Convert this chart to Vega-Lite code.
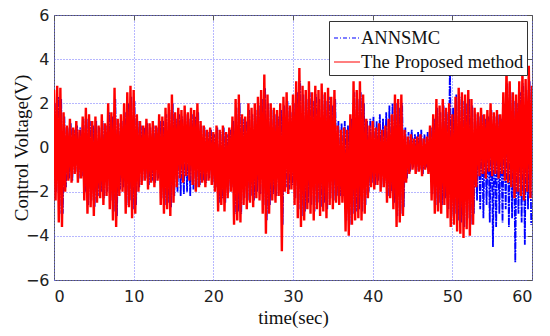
{
"$schema":"https://vega.github.io/schema/vega-lite/v6.json",
"width":478,"height":265,
"autosize":"none",
"padding":{"left":54,"top":15,"right":18,"bottom":56},
"background":"white",
"config":{"view":{"stroke":"#555","strokeWidth":1},
"axis":{"labelFont":"DejaVu Sans","labelFontSize":16,"labelColor":"#222","titleFont":"Liberation Serif","titleFontSize":19,"titleFontWeight":"normal","titleColor":"#111","domainColor":"#555","tickColor":"#555","gridColor":"#6e6eff","gridDash":[1,2],"gridOpacity":1,"gridWidth":1}},
"datasets":{
"blue":[
{"t":0.1,"v":2.0},{"t":0.3,"v":-2.0},{"t":0.5,"v":2.3},{"t":0.7,"v":-3.0},{"t":0.9,"v":2.2},{"t":1.1,"v":-3.0},{"t":1.3,"v":1.4},{"t":1.5,"v":-1.8},{"t":1.7,"v":0.9},{"t":1.9,"v":-1.4},
{"t":2.1,"v":1.1},{"t":2.3,"v":-1.5},{"t":2.5,"v":0.8},{"t":2.7,"v":-1.1},{"t":2.9,"v":1.0},{"t":3.1,"v":-1.4},{"t":3.3,"v":0.9},{"t":3.5,"v":-1.3},{"t":3.7,"v":1.3},{"t":3.9,"v":-2.0},
{"t":4.1,"v":1.3},{"t":4.3,"v":-2.6},{"t":4.5,"v":1.2},{"t":4.7,"v":-2.4},{"t":4.9,"v":1.0},{"t":5.1,"v":-2.7},{"t":5.3,"v":1.2},{"t":5.5,"v":-2.2},{"t":5.7,"v":0.9},{"t":5.9,"v":-2.0},
{"t":6.1,"v":1.2},{"t":6.3,"v":-2.3},{"t":6.5,"v":1.0},{"t":6.7,"v":-2.0},{"t":6.9,"v":1.6},{"t":7.1,"v":-2.4},{"t":7.3,"v":1.4},{"t":7.5,"v":-2.9},{"t":7.7,"v":2.2},{"t":7.9,"v":-3.1},
{"t":8.1,"v":1.1},{"t":8.3,"v":-1.9},{"t":8.5,"v":1.2},{"t":8.7,"v":-1.8},{"t":8.9,"v":1.6},{"t":9.1,"v":-2.6},{"t":9.3,"v":2.0},{"t":9.5,"v":-2.4},{"t":9.7,"v":2.3},{"t":9.9,"v":-2.8},
{"t":10.1,"v":2.1},{"t":10.3,"v":-2.6},{"t":10.5,"v":1.2},{"t":10.7,"v":-1.8},{"t":10.9,"v":1.0},{"t":11.1,"v":-1.5},{"t":11.3,"v":0.9},{"t":11.5,"v":-1.4},{"t":11.7,"v":1.1},{"t":11.9,"v":-1.7},
{"t":12.1,"v":0.9},{"t":12.3,"v":-1.5},{"t":12.5,"v":1.0},{"t":12.7,"v":-1.6},{"t":12.9,"v":0.9},{"t":13.1,"v":-1.4},{"t":13.3,"v":1.2},{"t":13.5,"v":-2.3},{"t":13.7,"v":1.2},{"t":13.9,"v":-2.6},
{"t":14.1,"v":1.5},{"t":14.3,"v":-2.5},{"t":14.5,"v":1.7},{"t":14.7,"v":-2.7},{"t":14.9,"v":2.0},{"t":15.1,"v":-2.2},{"t":15.3,"v":1.3},{"t":15.5,"v":-2.0},{"t":15.7,"v":1.5},{"t":15.9,"v":-2.2},
{"t":16.1,"v":1.4},{"t":16.3,"v":-2.1},{"t":16.5,"v":1.5},{"t":16.7,"v":-2.0},{"t":16.9,"v":1.3},{"t":17.1,"v":-2.2},{"t":17.3,"v":1.5},{"t":17.5,"v":-1.9},{"t":17.7,"v":1.4},{"t":17.9,"v":-1.8},
{"t":18.1,"v":1.6},{"t":18.3,"v":-1.7},{"t":18.5,"v":1.0},{"t":18.7,"v":-1.5},{"t":18.9,"v":0.9},{"t":19.1,"v":-1.6},{"t":19.3,"v":0.7},{"t":19.5,"v":-1.4},{"t":19.7,"v":0.8},{"t":19.9,"v":-1.6},
{"t":20.1,"v":0.6},{"t":20.3,"v":-1.8},{"t":20.5,"v":0.9},{"t":20.7,"v":-2.5},{"t":20.9,"v":0.7},{"t":21.1,"v":-2.3},{"t":21.3,"v":0.9},{"t":21.5,"v":-2.5},{"t":21.7,"v":0.6},{"t":21.9,"v":-2.0},
{"t":22.1,"v":0.8},{"t":22.3,"v":-1.8},{"t":22.5,"v":1.2},{"t":22.7,"v":-3.0},{"t":22.9,"v":1.8},{"t":23.1,"v":-2.9},{"t":23.3,"v":2.0},{"t":23.5,"v":-3.0},{"t":23.7,"v":1.3},{"t":23.9,"v":-2.3},
{"t":24.1,"v":1.2},{"t":24.3,"v":-2.4},{"t":24.5,"v":1.7},{"t":24.7,"v":-2.2},{"t":24.9,"v":1.5},{"t":25.1,"v":-2.4},{"t":25.3,"v":1.7},{"t":25.5,"v":-2.0},{"t":25.7,"v":1.9},{"t":25.9,"v":-2.1},
{"t":26.1,"v":2.2},{"t":26.3,"v":-2.6},{"t":26.5,"v":2.7},{"t":26.7,"v":-3.3},{"t":26.9,"v":2.0},{"t":27.1,"v":-2.6},{"t":27.3,"v":1.7},{"t":27.5,"v":-2.1},{"t":27.7,"v":1.5},{"t":27.9,"v":-2.2},
{"t":28.1,"v":1.4},{"t":28.3,"v":-1.9},{"t":28.5,"v":1.7},{"t":28.7,"v":-3.5},{"t":28.9,"v":1.9},{"t":29.1,"v":-1.8},{"t":29.3,"v":2.1},{"t":29.5,"v":-1.9},{"t":29.7,"v":1.6},{"t":29.9,"v":-1.7},
{"t":30.1,"v":2.0},{"t":30.3,"v":-2.3},{"t":30.5,"v":2.5},{"t":30.7,"v":-2.8},{"t":30.9,"v":3.0},{"t":31.1,"v":-3.1},{"t":31.3,"v":2.4},{"t":31.5,"v":-2.9},{"t":31.7,"v":2.2},{"t":31.9,"v":-2.5},
{"t":32.1,"v":2.5},{"t":32.3,"v":-2.6},{"t":32.5,"v":2.1},{"t":32.7,"v":-2.9},{"t":32.9,"v":2.4},{"t":33.1,"v":-2.5},{"t":33.3,"v":2.2},{"t":33.5,"v":-2.7},{"t":33.7,"v":2.4},{"t":33.9,"v":-2.5},
{"t":34.1,"v":2.1},{"t":34.3,"v":-2.8},{"t":34.5,"v":2.3},{"t":34.7,"v":-2.3},{"t":34.9,"v":1.9},{"t":35.1,"v":-2.4},{"t":35.3,"v":2.2},{"t":35.5,"v":-2.2},{"t":35.7,"v":1.2},{"t":35.9,"v":-2.2},
{"t":36.1,"v":1.1},{"t":36.3,"v":-2.2},{"t":36.5,"v":1.2},{"t":36.7,"v":-3.3},{"t":36.9,"v":1.0},{"t":37.1,"v":-3.5},{"t":37.3,"v":1.3},{"t":37.5,"v":-3.0},{"t":37.7,"v":2.5},{"t":37.9,"v":-2.9},
{"t":38.1,"v":2.2},{"t":38.3,"v":-2.8},{"t":38.5,"v":2.5},{"t":38.7,"v":-2.9},{"t":38.9,"v":2.0},{"t":39.1,"v":-2.6},{"t":39.3,"v":1.2},{"t":39.5,"v":-2.0},{"t":39.7,"v":1.3},{"t":39.9,"v":-1.6},
{"t":40.1,"v":1.4},{"t":40.3,"v":-1.7},{"t":40.5,"v":1.2},{"t":40.7,"v":-1.5},{"t":40.9,"v":1.5},{"t":41.1,"v":-1.8},{"t":41.3,"v":1.3},{"t":41.5,"v":-1.6},{"t":41.7,"v":1.6},{"t":41.9,"v":-2.2},
{"t":42.1,"v":1.9},{"t":42.3,"v":-2.0},{"t":42.5,"v":2.0},{"t":42.7,"v":-2.5},{"t":42.9,"v":2.0},{"t":43.1,"v":-3.1},{"t":43.3,"v":1.8},{"t":43.5,"v":-3.0},{"t":43.7,"v":2.0},{"t":43.9,"v":-2.7},
{"t":44.1,"v":0.9},{"t":44.3,"v":-1.4},{"t":44.5,"v":0.7},{"t":44.7,"v":-1.1},{"t":44.9,"v":0.8},{"t":45.1,"v":-0.9},{"t":45.3,"v":0.6},{"t":45.5,"v":-1.1},{"t":45.7,"v":0.7},{"t":45.9,"v":-1.0},
{"t":46.1,"v":0.8},{"t":46.3,"v":-1.2},{"t":46.5,"v":0.6},{"t":46.7,"v":-0.9},{"t":46.9,"v":0.7},{"t":47.1,"v":-1.1},{"t":47.3,"v":0.9},{"t":47.5,"v":-2.1},{"t":47.7,"v":1.3},{"t":47.9,"v":-2.6},
{"t":48.1,"v":1.8},{"t":48.3,"v":-2.5},{"t":48.5,"v":1.6},{"t":48.7,"v":-2.6},{"t":48.9,"v":1.9},{"t":49.1,"v":-2.3},{"t":49.3,"v":1.6},{"t":49.5,"v":-2.8},{"t":49.7,"v":3.8},{"t":49.9,"v":-3.1},
{"t":50.1,"v":1.8},{"t":50.3,"v":-3.0},{"t":50.5,"v":2.4},{"t":50.7,"v":-3.3},{"t":50.9,"v":2.3},{"t":51.1,"v":-3.4},{"t":51.3,"v":2.1},{"t":51.5,"v":-3.6},{"t":51.7,"v":2.0},{"t":51.9,"v":-3.2},
{"t":52.1,"v":2.2},{"t":52.3,"v":-3.5},{"t":52.5,"v":1.9},{"t":52.7,"v":-3.0},{"t":52.9,"v":1.5},{"t":53.1,"v":-2.4},{"t":53.3,"v":1.4},{"t":53.5,"v":-2.8},{"t":53.7,"v":1.5},{"t":53.9,"v":-3.2},
{"t":54.1,"v":1.3},{"t":54.3,"v":-2.6},{"t":54.5,"v":1.4},{"t":54.7,"v":-3.4},{"t":54.9,"v":1.7},{"t":55.1,"v":-4.5},{"t":55.3,"v":1.4},{"t":55.5,"v":-3.6},{"t":55.7,"v":1.5},{"t":55.9,"v":-3.0},
{"t":56.1,"v":1.3},{"t":56.3,"v":-3.4},{"t":56.5,"v":2.0},{"t":56.7,"v":-2.8},{"t":56.9,"v":2.9},{"t":57.1,"v":-3.6},{"t":57.3,"v":2.5},{"t":57.5,"v":-3.2},{"t":57.7,"v":2.1},{"t":57.9,"v":-5.2},
{"t":58.1,"v":2.0},{"t":58.3,"v":-3.0},{"t":58.5,"v":2.5},{"t":58.7,"v":-3.4},{"t":58.9,"v":2.9},{"t":59.1,"v":-4.4},{"t":59.3,"v":2.6},{"t":59.5,"v":-2.8},{"t":59.7,"v":3.0},{"t":59.9,"v":-3.5}
],
"red":[
{"t":0.0,"v":2.6},{"t":0.2,"v":-2.4},{"t":0.4,"v":2.8},{"t":0.6,"v":-3.4},{"t":0.8,"v":2.7},{"t":1.0,"v":-3.6},{"t":1.2,"v":1.6},{"t":1.4,"v":-2.0},{"t":1.6,"v":1.0},{"t":1.8,"v":-1.5},
{"t":2.0,"v":1.3},{"t":2.2,"v":-1.6},{"t":2.4,"v":0.9},{"t":2.6,"v":-1.2},{"t":2.8,"v":1.2},{"t":3.0,"v":-1.6},{"t":3.2,"v":0.8},{"t":3.4,"v":-1.4},{"t":3.6,"v":1.4},{"t":3.8,"v":-2.4},
{"t":4.0,"v":1.8},{"t":4.2,"v":-3.0},{"t":4.4,"v":1.5},{"t":4.6,"v":-2.7},{"t":4.8,"v":1.2},{"t":5.0,"v":-3.1},{"t":5.2,"v":1.4},{"t":5.4,"v":-2.5},{"t":5.6,"v":1.0},{"t":5.8,"v":-2.3},
{"t":6.0,"v":1.5},{"t":6.2,"v":-2.6},{"t":6.4,"v":1.1},{"t":6.6,"v":-2.2},{"t":6.8,"v":2.0},{"t":7.0,"v":-2.8},{"t":7.2,"v":1.6},{"t":7.4,"v":-3.3},{"t":7.6,"v":2.7},{"t":7.8,"v":-3.6},
{"t":8.0,"v":1.3},{"t":8.2,"v":-2.2},{"t":8.4,"v":1.5},{"t":8.6,"v":-2.0},{"t":8.8,"v":2.0},{"t":9.0,"v":-3.0},{"t":9.2,"v":2.5},{"t":9.4,"v":-2.7},{"t":9.6,"v":2.8},{"t":9.8,"v":-3.2},
{"t":10.0,"v":2.6},{"t":10.2,"v":-3.0},{"t":10.4,"v":1.5},{"t":10.6,"v":-2.0},{"t":10.8,"v":1.2},{"t":11.0,"v":-1.7},{"t":11.2,"v":1.0},{"t":11.4,"v":-1.5},{"t":11.6,"v":1.3},{"t":11.8,"v":-1.9},
{"t":12.0,"v":1.1},{"t":12.2,"v":-1.6},{"t":12.4,"v":1.2},{"t":12.6,"v":-1.8},{"t":12.8,"v":1.0},{"t":13.0,"v":-1.5},{"t":13.2,"v":1.5},{"t":13.4,"v":-2.6},{"t":13.6,"v":1.4},{"t":13.8,"v":-3.0},
{"t":14.0,"v":1.8},{"t":14.2,"v":-2.8},{"t":14.4,"v":2.0},{"t":14.6,"v":-3.1},{"t":14.8,"v":2.4},{"t":15.0,"v":-2.5},{"t":15.2,"v":1.6},{"t":15.4,"v":-1.8},{"t":15.6,"v":1.8},{"t":15.8,"v":-1.4},
{"t":16.0,"v":1.7},{"t":16.2,"v":-1.6},{"t":16.4,"v":1.9},{"t":16.6,"v":-1.3},{"t":16.8,"v":1.6},{"t":17.0,"v":-1.5},{"t":17.2,"v":1.8},{"t":17.4,"v":-1.7},{"t":17.6,"v":1.7},{"t":17.8,"v":-2.0},
{"t":18.0,"v":2.0},{"t":18.2,"v":-1.8},{"t":18.4,"v":1.2},{"t":18.6,"v":-1.6},{"t":18.8,"v":1.0},{"t":19.0,"v":-1.8},{"t":19.2,"v":0.8},{"t":19.4,"v":-1.5},{"t":19.6,"v":0.9},{"t":19.8,"v":-1.7},
{"t":20.0,"v":0.7},{"t":20.2,"v":-2.0},{"t":20.4,"v":1.0},{"t":20.6,"v":-2.9},{"t":20.8,"v":0.8},{"t":21.0,"v":-2.6},{"t":21.2,"v":1.0},{"t":21.4,"v":-2.9},{"t":21.6,"v":0.7},{"t":21.8,"v":-2.3},
{"t":22.0,"v":0.9},{"t":22.2,"v":-2.0},{"t":22.4,"v":1.4},{"t":22.6,"v":-3.5},{"t":22.8,"v":2.2},{"t":23.0,"v":-3.3},{"t":23.2,"v":2.4},{"t":23.4,"v":-3.4},{"t":23.6,"v":1.5},{"t":23.8,"v":-2.6},
{"t":24.0,"v":1.4},{"t":24.2,"v":-2.8},{"t":24.4,"v":2.0},{"t":24.6,"v":-2.5},{"t":24.8,"v":1.8},{"t":25.0,"v":-2.7},{"t":25.2,"v":2.0},{"t":25.4,"v":-2.3},{"t":25.6,"v":2.3},{"t":25.8,"v":-2.4},
{"t":26.0,"v":2.6},{"t":26.2,"v":-3.0},{"t":26.4,"v":3.3},{"t":26.6,"v":-3.9},{"t":26.8,"v":2.4},{"t":27.0,"v":-3.0},{"t":27.2,"v":2.0},{"t":27.4,"v":-2.4},{"t":27.6,"v":1.8},{"t":27.8,"v":-2.5},
{"t":28.0,"v":1.7},{"t":28.2,"v":-2.2},{"t":28.4,"v":2.0},{"t":28.6,"v":-4.7},{"t":28.8,"v":2.3},{"t":29.0,"v":-2.0},{"t":29.2,"v":2.5},{"t":29.4,"v":-2.1},{"t":29.6,"v":1.9},{"t":29.8,"v":-1.9},
{"t":30.0,"v":2.4},{"t":30.2,"v":-2.6},{"t":30.4,"v":3.0},{"t":30.6,"v":-3.2},{"t":30.8,"v":3.6},{"t":31.0,"v":-3.6},{"t":31.2,"v":2.8},{"t":31.4,"v":-3.3},{"t":31.6,"v":2.6},{"t":31.8,"v":-2.8},
{"t":32.0,"v":3.0},{"t":32.2,"v":-3.0},{"t":32.4,"v":2.5},{"t":32.6,"v":-3.3},{"t":32.8,"v":2.8},{"t":33.0,"v":-2.8},{"t":33.2,"v":2.6},{"t":33.4,"v":-3.1},{"t":33.6,"v":2.9},{"t":33.8,"v":-2.9},
{"t":34.0,"v":2.5},{"t":34.2,"v":-3.2},{"t":34.4,"v":2.7},{"t":34.6,"v":-2.6},{"t":34.8,"v":2.3},{"t":35.0,"v":-2.8},{"t":35.2,"v":2.6},{"t":35.4,"v":-2.5},{"t":35.6,"v":1.0},{"t":35.8,"v":-2.6},
{"t":36.0,"v":0.8},{"t":36.2,"v":-2.5},{"t":36.4,"v":0.9},{"t":36.6,"v":-3.8},{"t":36.8,"v":0.8},{"t":37.0,"v":-4.0},{"t":37.2,"v":1.5},{"t":37.4,"v":-3.5},{"t":37.6,"v":3.0},{"t":37.8,"v":-3.3},
{"t":38.0,"v":2.6},{"t":38.2,"v":-3.2},{"t":38.4,"v":3.0},{"t":38.6,"v":-3.3},{"t":38.8,"v":2.4},{"t":39.0,"v":-3.0},{"t":39.2,"v":1.3},{"t":39.4,"v":-2.3},{"t":39.6,"v":1.0},{"t":39.8,"v":-1.8},
{"t":40.0,"v":1.2},{"t":40.2,"v":-1.9},{"t":40.4,"v":0.9},{"t":40.6,"v":-1.7},{"t":40.8,"v":1.1},{"t":41.0,"v":-2.0},{"t":41.2,"v":0.8},{"t":41.4,"v":-1.8},{"t":41.6,"v":1.0},{"t":41.8,"v":-2.5},
{"t":42.0,"v":1.3},{"t":42.2,"v":-2.3},{"t":42.4,"v":1.5},{"t":42.6,"v":-2.8},{"t":42.8,"v":2.4},{"t":43.0,"v":-3.6},{"t":43.2,"v":2.2},{"t":43.4,"v":-3.4},{"t":43.6,"v":2.4},{"t":43.8,"v":-3.1},
{"t":44.0,"v":0.8},{"t":44.2,"v":-1.6},{"t":44.4,"v":0.5},{"t":44.6,"v":-1.2},{"t":44.8,"v":0.6},{"t":45.0,"v":-1.0},{"t":45.2,"v":0.4},{"t":45.4,"v":-1.2},{"t":45.6,"v":0.5},{"t":45.8,"v":-1.1},
{"t":46.0,"v":0.6},{"t":46.2,"v":-1.3},{"t":46.4,"v":0.4},{"t":46.6,"v":-1.0},{"t":46.8,"v":0.5},{"t":47.0,"v":-1.2},{"t":47.2,"v":1.0},{"t":47.4,"v":-2.4},{"t":47.6,"v":1.5},{"t":47.8,"v":-3.0},
{"t":48.0,"v":2.2},{"t":48.2,"v":-2.9},{"t":48.4,"v":1.9},{"t":48.6,"v":-3.0},{"t":48.8,"v":2.2},{"t":49.0,"v":-2.6},{"t":49.2,"v":1.8},{"t":49.4,"v":-3.2},{"t":49.6,"v":2.0},{"t":49.8,"v":-3.6},
{"t":50.0,"v":1.5},{"t":50.2,"v":-3.5},{"t":50.4,"v":2.3},{"t":50.6,"v":-3.8},{"t":50.8,"v":2.7},{"t":51.0,"v":-3.9},{"t":51.2,"v":2.5},{"t":51.4,"v":-4.1},{"t":51.6,"v":2.4},{"t":51.8,"v":-3.7},
{"t":52.0,"v":2.6},{"t":52.2,"v":-4.0},{"t":52.4,"v":2.2},{"t":52.6,"v":-3.5},{"t":52.8,"v":1.8},{"t":53.0,"v":-1.8},{"t":53.2,"v":1.6},{"t":53.4,"v":-1.3},{"t":53.6,"v":1.8},{"t":53.8,"v":-1.2},
{"t":54.0,"v":1.5},{"t":54.2,"v":-1.4},{"t":54.4,"v":1.7},{"t":54.6,"v":-1.1},{"t":54.8,"v":2.0},{"t":55.0,"v":-1.3},{"t":55.2,"v":1.6},{"t":55.4,"v":-1.2},{"t":55.6,"v":1.7},{"t":55.8,"v":-1.4},
{"t":56.0,"v":1.5},{"t":56.2,"v":-1.2},{"t":56.4,"v":2.5},{"t":56.6,"v":-1.5},{"t":56.8,"v":3.6},{"t":57.0,"v":-1.6},{"t":57.2,"v":3.0},{"t":57.4,"v":-1.8},{"t":57.6,"v":2.5},{"t":57.8,"v":-2.3},
{"t":58.0,"v":2.4},{"t":58.2,"v":-2.0},{"t":58.4,"v":3.0},{"t":58.6,"v":-2.2},{"t":58.8,"v":3.5},{"t":59.0,"v":-2.4},{"t":59.2,"v":3.1},{"t":59.4,"v":-2.0},{"t":59.6,"v":3.7},{"t":59.8,"v":-2.3},
{"t":60.0,"v":2.8}
]},
"layer":[
{"data":{"name":"blue"},
"mark":{"type":"line","strokeWidth":1.8,"strokeDash":[7,1,2,1],"clip":true},
"encoding":{
"x":{"field":"t","type":"quantitative","scale":{"domain":[0,60],"nice":false},"axis":{"values":[0,10,20,30,40,50,60],"title":"time(sec)","grid":true,"ticks":false,"domain":false,"labelPadding":8,"titlePadding":4}},
"y":{"field":"v","type":"quantitative","scale":{"domain":[-6,6],"nice":false},"axis":{"values":[-6,-4,-2,0,2,4,6],"title":"Control Voltage(V)","grid":true,"ticks":false,"domain":false,"labelPadding":5,"titleX":-33,"titleBaseline":"middle"}},
"color":{"datum":"ANNSMC","type":"nominal","scale":{"domain":["ANNSMC","The Proposed method"],"range":["#0000ff","#ff0000"]},
"legend":{"title":null,"orient":"none","legendX":275,"legendY":6,"strokeColor":"#333","fillColor":"white","padding":3,"symbolType":"stroke","symbolSize":324,"symbolOffset":1,"symbolStrokeWidth":1.2,"labelFont":"Liberation Serif","labelFontSize":18.5,"labelLimit":400,"labelColor":"#111","labelOffset":0,"rowPadding":-3,
"encode":{"symbols":{"update":{"size":{"value":676},"strokeDash":{"signal":"datum.value === 'ANNSMC' ? [4,2,1,2] : [1,0]"}}}}}}}},
{"data":{"name":"red"},
"mark":{"type":"line","strokeWidth":2.4,"clip":true},
"encoding":{
"x":{"field":"t","type":"quantitative","axis":{"orient":"top","values":[0,10,20,30,40,50,60],"labels":false,"title":null,"grid":false,"domain":false,"tickSize":-5}},
"y":{"field":"v","type":"quantitative","axis":{"orient":"right","values":[-6,-4,-2,0,2,4,6],"labels":false,"title":null,"grid":false,"domain":false,"tickSize":-5}},
"color":{"datum":"The Proposed method","type":"nominal"}}}
],
"resolve":{"axis":{"x":"independent","y":"independent"}}
}
